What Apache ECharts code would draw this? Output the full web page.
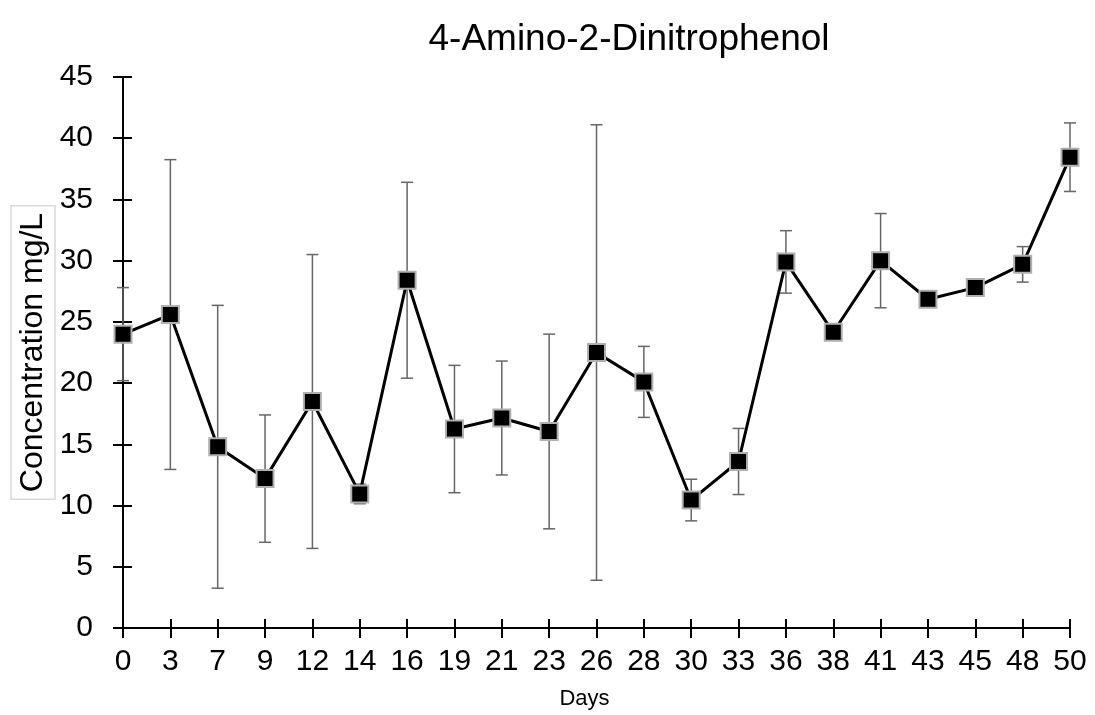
<!DOCTYPE html>
<html>
<head>
<meta charset="utf-8">
<script src="https://cdn.jsdelivr.net/npm/echarts@6/dist/echarts.min.js"></script>
<style>
  html, body { margin: 0; padding: 0; background: #fff; }
  #main { width: 1095px; height: 715px; }
</style>
</head>
<body>
<div id="main"></div>
<script>
var days = ['0', '3', '7', '9', '12', '14', '16', '19', '21', '23', '26', '28', '30', '33', '36', '38', '41', '43', '45', '48', '50'];
var conc = [24.0, 25.6, 14.8, 12.2, 18.5, 10.95, 28.4, 16.25, 17.15, 16.05, 22.5, 20.1, 10.45, 13.6, 29.9, 24.15, 30.0, 26.85, 27.8, 29.7, 38.45];
var errs = [3.8, 12.65, 11.55, 5.2, 12.0, 0.8, 8.0, 5.2, 4.65, 7.95, 18.6, 2.9, 1.7, 2.7, 2.55, 0, 3.85, 0, 0, 1.45, 2.8];
var yTicks = [0, 5, 10, 15, 20, 25, 30, 35, 40, 45];

function initChart(con) {
    var chart = echarts.init(document.getElementById(con));
    var font = 'Liberation Sans, Arial, sans-serif';
    var errData = days.map(function (d, i) {
        return [i, conc[i] - errs[i], conc[i] + errs[i]];
    });
    var option = {
        animation: false,
        title: {
            text: '4-Amino-2-Dinitrophenol',
            left: 624,
            textAlign: 'center',
            top: 16,
            textStyle: { fontFamily: font, fontSize: 37, fontWeight: 'normal', color: '#000' }
        },
        grid: { left: 123, right: 25, top: 77, bottom: 87, outerBoundsMode: 'none' },
        xAxis: [
            {
                type: 'category',
                data: days,
                boundaryGap: false,
                name: 'Days',
                nameLocation: 'middle',
                nameGap: 60,
                nameMoveOverlap: false,
                nameTextStyle: { fontFamily: font, fontSize: 22, color: '#000', padding: [0, 24, 0, 0] },
                axisLine: { lineStyle: { color: '#000', width: 2 } },
                axisTick: { length: 10, lineStyle: { color: '#000', width: 2 } },
                axisLabel: { fontFamily: font, fontSize: 30, color: '#000', margin: 19, interval: 0 },
                splitLine: { show: false }
            },
            {
                type: 'category',
                data: days,
                boundaryGap: false,
                position: 'bottom',
                axisLine: { show: false },
                axisTick: { inside: true, length: 9, lineStyle: { color: '#000', width: 2 } },
                axisLabel: { show: false },
                splitLine: { show: false }
            }
        ],
        yAxis: [
            {
                type: 'value',
                min: 0,
                max: 45,
                interval: 5,
                name: 'Concentration mg/L',
                nameLocation: 'middle',
                nameRotate: 90,
                nameGap: 68,
                nameMoveOverlap: false,
                nameTextStyle: {
                    fontFamily: font, fontSize: 32, color: '#000',
                    borderColor: '#d9d9d9', borderWidth: 1.5, padding: [6, 7, 6, 7]
                },
                axisLine: { show: true, lineStyle: { color: '#000', width: 2 } },
                axisTick: { show: true, length: 10, lineStyle: { color: '#000', width: 2 } },
                axisLabel: {
                    fontFamily: font, fontSize: 30, color: '#000', margin: 30,
                    formatter: function (v) { return yTicks.indexOf(v) >= 0 ? String(v) : ''; }
                },
                splitLine: { show: false }
            },
            {
                type: 'value',
                min: 0,
                max: 45,
                interval: 5,
                position: 'left',
                axisLine: { show: false },
                axisTick: { show: true, inside: true, length: 9, lineStyle: { color: '#000', width: 2 } },
                axisLabel: { show: false },
                splitLine: { show: false }
            }
        ],
        series: [
            {
                type: 'custom',
                name: 'error',
                xAxisIndex: 0,
                yAxisIndex: 0,
                data: errData,
                z: 1,
                renderItem: function (params, api) {
                    var x = api.value(0);
                    var lo = api.coord([x, api.value(1)]);
                    var hi = api.coord([x, api.value(2)]);
                    if (Math.abs(hi[1] - lo[1]) < 1) return null;
                    var w = 6;
                    var st = { stroke: '#666', lineWidth: 1.5 };
                    return {
                        type: 'group',
                        children: [
                            { type: 'line', shape: { x1: hi[0], y1: hi[1], x2: lo[0], y2: lo[1] }, style: st },
                            { type: 'line', shape: { x1: hi[0] - w, y1: hi[1], x2: hi[0] + w, y2: hi[1] }, style: st },
                            { type: 'line', shape: { x1: lo[0] - w, y1: lo[1], x2: lo[0] + w, y2: lo[1] }, style: st }
                        ]
                    };
                }
            },
            {
                type: 'line',
                name: 'Concentration',
                data: conc,
                z: 3,
                symbol: 'rect',
                symbolSize: 17,
                lineStyle: { color: '#000', width: 3 },
                itemStyle: { color: '#000', borderColor: '#b0b0b0', borderWidth: 2 }
            }
        ]
    };
    chart.setOption(option);
}
initChart('main');
</script>
</body>
</html>
